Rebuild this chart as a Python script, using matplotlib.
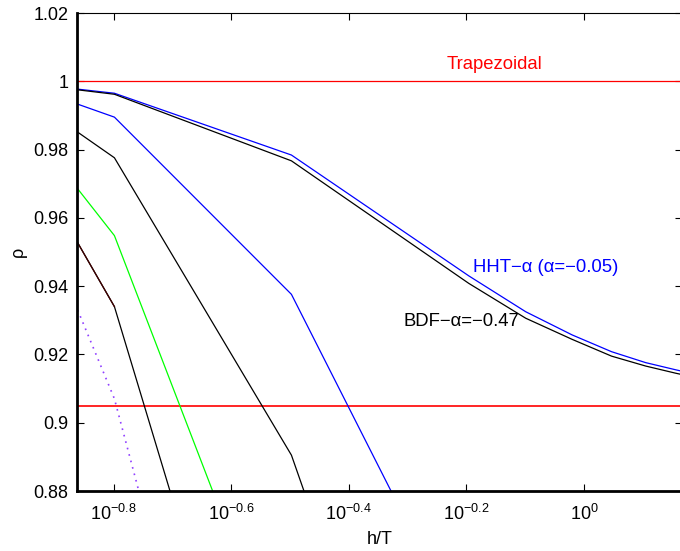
import numpy as np
import matplotlib
matplotlib.use("Agg")
import matplotlib.pyplot as plt

plt.rcParams['font.family'] = ['Liberation Sans', 'DejaVu Sans']
plt.rcParams['mathtext.fontset'] = 'custom'
plt.rcParams['mathtext.rm'] = 'Liberation Sans'
plt.rcParams['mathtext.it'] = 'Liberation Sans'
plt.rcParams['mathtext.sf'] = 'Liberation Sans'

# h/T sample points
x_full = [0.1377, 0.159, 0.318, 0.637, 0.796, 0.955, 1.114, 1.273, 1.432, 1.592]
hht_top = [0.9977, 0.9965, 0.9784, 0.9430, 0.9325, 0.9257, 0.9208, 0.9176, 0.9155, 0.9137]
bdf_top = [0.9975, 0.9962, 0.9767, 0.9408, 0.9306, 0.9244, 0.9195, 0.9166, 0.9145, 0.9128]

x_short = [0.1377, 0.159, 0.318, 0.637]
hht_low = [0.9933, 0.9895, 0.9376, 0.835]
bdf_low = [0.9851, 0.9776, 0.8905, 0.742]

x_s3 = [0.1377, 0.159, 0.318]
green_vals = [0.9685, 0.9548, 0.820]
black3_vals = [0.9527, 0.934, 0.762]
purple_vals = [0.933, 0.907, 0.711]

x_s2 = [0.1377, 0.159]
darkred_vals = [0.9527, 0.934]

trap_levels = [1.0, 0.905]

xtick_pows = [-0.8, -0.6, -0.4, -0.2, 0]
yticks = [0.88, 0.90, 0.92, 0.94, 0.96, 0.98, 1.00, 1.02]
ytick_labels = ['0.88', '0.9', '0.92', '0.94', '0.96', '0.98', '1', '1.02']

W, H = 680, 551
fig = plt.figure(figsize=(W / 100, H / 100), dpi=100)
L, R, T, B = 77, 682, 13, 491
ax = fig.add_axes([L / W, 1 - B / H, (R - L) / W, (B - T) / H])
ax.set_xscale('log')
ax.set_xlim(10 ** ((L - 584) / 588.0), 10 ** ((R - 584) / 588.0))
ax.set_ylim(0.88, 1.02)

lw = 0.9
for lev in trap_levels:
    ax.axhline(lev, color='#ff0000', lw=lw if lev == 1.0 else 1.2)
ax.plot(x_full, hht_top, color='#0000ff', lw=lw)
ax.plot(x_full, bdf_top, color='black', lw=lw)
ax.plot(x_short, hht_low, color='#0000ff', lw=lw)
ax.plot(x_short, bdf_low, color='black', lw=lw)
ax.plot(x_s3, green_vals, color='#00ff00', lw=lw)
ax.plot(x_s3, black3_vals, color='black', lw=lw)
ax.plot(x_s2, darkred_vals, color='#400000', lw=lw)
ax.plot(x_s3, purple_vals, color='#9040ff', lw=1.2, linestyle=(0, (1, 3)))

fs = 13.3
ax.text(0.705, 1.0048, 'Trapezoidal', color='#ff0000', fontsize=fs, ha='center', va='center')
ax.text(0.648, 0.9456, 'HHT\u2212\u03b1 (\u03b1=\u22120.05)', color='#0000ff', fontsize=fs, ha='left', va='center')
ax.text(0.493, 0.9296, 'BDF\u2212\u03b1=\u22120.47', color='black', fontsize=fs, ha='left', va='center')

ax.set_xticks([10 ** p for p in xtick_pows])
ax.set_xticklabels([r'$10^{%s}$' % (('\u2212%g' % -p) if p < 0 else '0') for p in xtick_pows])
ax.xaxis.set_minor_locator(matplotlib.ticker.NullLocator())
ax.set_yticks(yticks)
ax.set_yticklabels(ytick_labels)
ax.tick_params(direction='in', length=5, width=0.8, labelsize=13, top=True, right=True, pad=6)
ax.tick_params(axis='x', pad=9)

ax.set_xlabel('h/T', fontsize=13, labelpad=5)
ax.set_ylabel('\u03c1', fontsize=13, labelpad=5)

ax.spines['left'].set_linewidth(2)
ax.spines['bottom'].set_linewidth(2)
ax.spines['top'].set_linewidth(0.8)
ax.spines['right'].set_linewidth(0.8)

fig.savefig('out.png', dpi=100)
